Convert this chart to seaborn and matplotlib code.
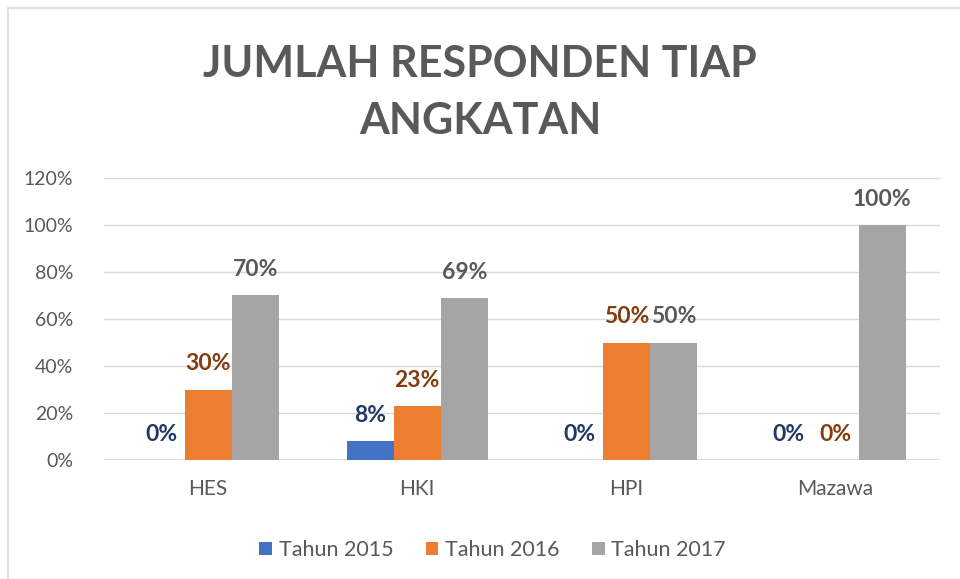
import pandas as pd
import matplotlib.pyplot as plt
import seaborn as sns
from matplotlib.patches import Rectangle
from matplotlib.ticker import PercentFormatter

programs = ['HES', 'HKI', 'HPI', 'Mazawa']
series = ['Tahun 2015', 'Tahun 2016', 'Tahun 2017']
tahun_2015 = [0.00, 0.08, 0.00, 0.00]
tahun_2016 = [0.30, 0.23, 0.50, 0.00]
tahun_2017 = [0.70, 0.69, 0.50, 1.00]

bar_colors = ['#4472C4', '#ED7D31', '#A5A5A5']
label_colors = ['#203864', '#843C0C', '#595959']

df = pd.DataFrame({
    'program': programs * 3,
    'tahun': [s for s in series for _ in programs],
    'value': tahun_2015 + tahun_2016 + tahun_2017,
})

sns.set_style('white')
plt.rcParams['font.family'] = ['Lato', 'DejaVu Sans']

fig = plt.figure(figsize=(9.6, 5.79), dpi=100)
ax = fig.add_axes([0.108, 0.2055, 0.871, 0.4871])

sns.barplot(data=df, x='program', y='value', hue='tahun', palette=bar_colors,
            width=0.675, gap=0, saturation=1, linewidth=0, ax=ax, legend=True)

ax.set_ylim(0, 1.2)
ax.set_yticks([0, 0.2, 0.4, 0.6, 0.8, 1.0, 1.2])
ax.yaxis.set_major_formatter(PercentFormatter(1.0, decimals=0))
ax.grid(axis='y', color='#D9D9D9', linewidth=1)
ax.set_axisbelow(True)
sns.despine(ax=ax, left=True, bottom=True)
ax.axhline(0, color='#D9D9D9', linewidth=1.2, zorder=0.5)
ax.set_xlabel('')
ax.set_ylabel('')
ax.tick_params(axis='both', length=0, labelsize=14, colors='#595959')
ax.tick_params(axis='x', labelsize=15, pad=14)
ax.tick_params(axis='y', pad=22)

for cont, col in zip(ax.containers, label_colors):
    ax.bar_label(cont, labels=[f'{v * 100:.0f}%' for v in cont.datavalues],
                 padding=11, color=col, fontsize=16.5, fontweight='bold')

handles, labels = ax.get_legend_handles_labels()
ax.legend(handles, labels, loc='upper center', bbox_to_anchor=(0.465, -0.215),
          ncol=3, frameon=False, fontsize=15.5, labelcolor='#595959',
          handlelength=0.6, handleheight=0.6, handletextpad=0.3, columnspacing=1.5)

fig.text(0.5, 0.84, 'JUMLAH RESPONDEN TIAP\nANGKATAN', ha='center', va='center',
         fontsize=31, fontweight='bold', color='#595959', linespacing=1.5)

fig.patches.append(Rectangle((8 / 960, -0.05), 1.2, 1.05 - 8 / 579, transform=fig.transFigure,
                             fill=False, edgecolor='#D9D9D9', linewidth=1.2))

fig.savefig('out.png', dpi=100)
